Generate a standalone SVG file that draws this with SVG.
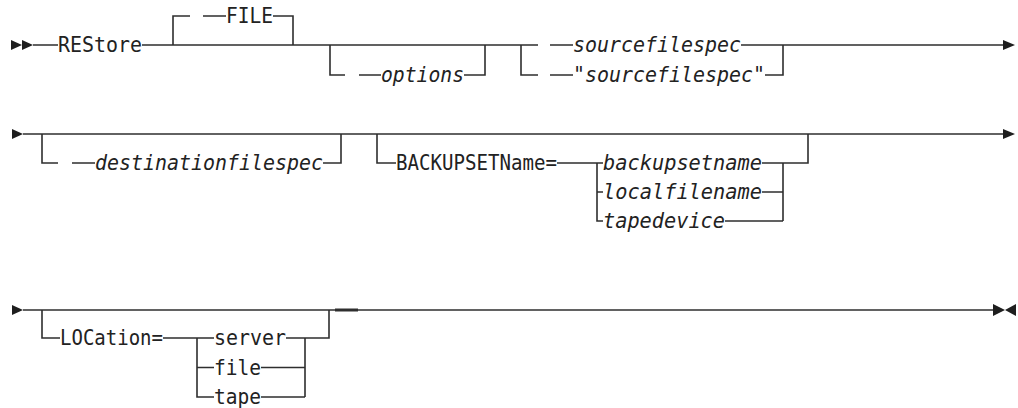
<svg xmlns="http://www.w3.org/2000/svg" width="1018" height="408" viewBox="0 0 1018 408">
<style>
.ln{fill:none;stroke:#2e2e2e;stroke-width:1.6}
.ah{fill:#1e1e1e}
.t{font-family:"DejaVu Sans Mono","Liberation Mono",monospace;font-size:21px;fill:#222}
.i{font-style:italic}
</style>
<rect width="1018" height="408" fill="#fff"/>
<g id="connectors">
<path class="ln" d="M33 45H58M142 45H538M550 45H573M741 45H1003"/>
<path class="ln" d="M173 45V16H190M203 16H226M273 16H293V45"/>
<path class="ln" d="M330 45V75H345M359 75H381M464 75H485V45"/>
<path class="ln" d="M521 45V75H538M550 75H573M765 75H783V45"/>
<path class="ln" d="M23 134H1003"/>
<path class="ln" d="M42 134V163H58M72 163H95M323 163H341V134"/>
<path class="ln" d="M377 134V163H396M557 163H603M762 163H808V134"/>
<path class="ln" d="M597 163V221H603M597 192H603M762 192H783M725 221H783M783 163V221"/>
<path class="ln" d="M23 310H993"/>
<path class="ln" d="M42 310V338H60M163 338H214M286 338H329V310M197 338V397H214M197 367.5H214M261 367.5H305M261 397H305M305 338V397"/>
<path class="ln" style="stroke-width:3" d="M335 310H358"/>
<polygon class="ah" points="11,40 11,50 22,45"/>
<polygon class="ah" points="22,40 22,50 33,45"/>
<polygon class="ah" points="1003,40 1003,50 1015,45"/>
<polygon class="ah" points="12,129 12,139 23,134"/>
<polygon class="ah" points="1003,129 1003,139 1015,134"/>
<polygon class="ah" points="12,305 12,315 23,310"/>
<polygon class="ah" points="993,304 993,316 1005,310"/>
<polygon class="ah" points="1016,304 1016,316 1005,310"/>
</g>
<g id="restore"><text class="t" x="58" y="52" textLength="84" lengthAdjust="spacingAndGlyphs">REStore</text></g>
<g id="file"><text class="t" x="226" y="23" textLength="47" lengthAdjust="spacingAndGlyphs">FILE</text></g>
<g id="options"><text class="t i" x="381" y="82" textLength="83" lengthAdjust="spacingAndGlyphs">options</text></g>
<g id="sourcefilespec"><text class="t i" x="573" y="52" textLength="168" lengthAdjust="spacingAndGlyphs">sourcefilespec</text></g>
<g id="sourcefilespec-quoted"><text class="t i" x="573" y="82" textLength="192" lengthAdjust="spacingAndGlyphs">&quot;sourcefilespec&quot;</text></g>
<g id="destinationfilespec"><text class="t i" x="95" y="170" textLength="228" lengthAdjust="spacingAndGlyphs">destinationfilespec</text></g>
<g id="backupsetname-kw"><text class="t" x="396" y="170" textLength="161" lengthAdjust="spacingAndGlyphs">BACKUPSETName=</text></g>
<g id="backupsetname"><text class="t i" x="603" y="170" textLength="159" lengthAdjust="spacingAndGlyphs">backupsetname</text></g>
<g id="localfilename"><text class="t i" x="603" y="199" textLength="159" lengthAdjust="spacingAndGlyphs">localfilename</text></g>
<g id="tapedevice"><text class="t i" x="603" y="228" textLength="122" lengthAdjust="spacingAndGlyphs">tapedevice</text></g>
<g id="location-kw"><text class="t" x="60" y="345" textLength="103" lengthAdjust="spacingAndGlyphs">LOCation=</text></g>
<g id="server"><text class="t" x="214" y="345" textLength="72" lengthAdjust="spacingAndGlyphs">server</text></g>
<g id="file-loc"><text class="t" x="214" y="374.5" textLength="47" lengthAdjust="spacingAndGlyphs">file</text></g>
<g id="tape"><text class="t" x="214" y="404" textLength="47" lengthAdjust="spacingAndGlyphs">tape</text></g>
</svg>
